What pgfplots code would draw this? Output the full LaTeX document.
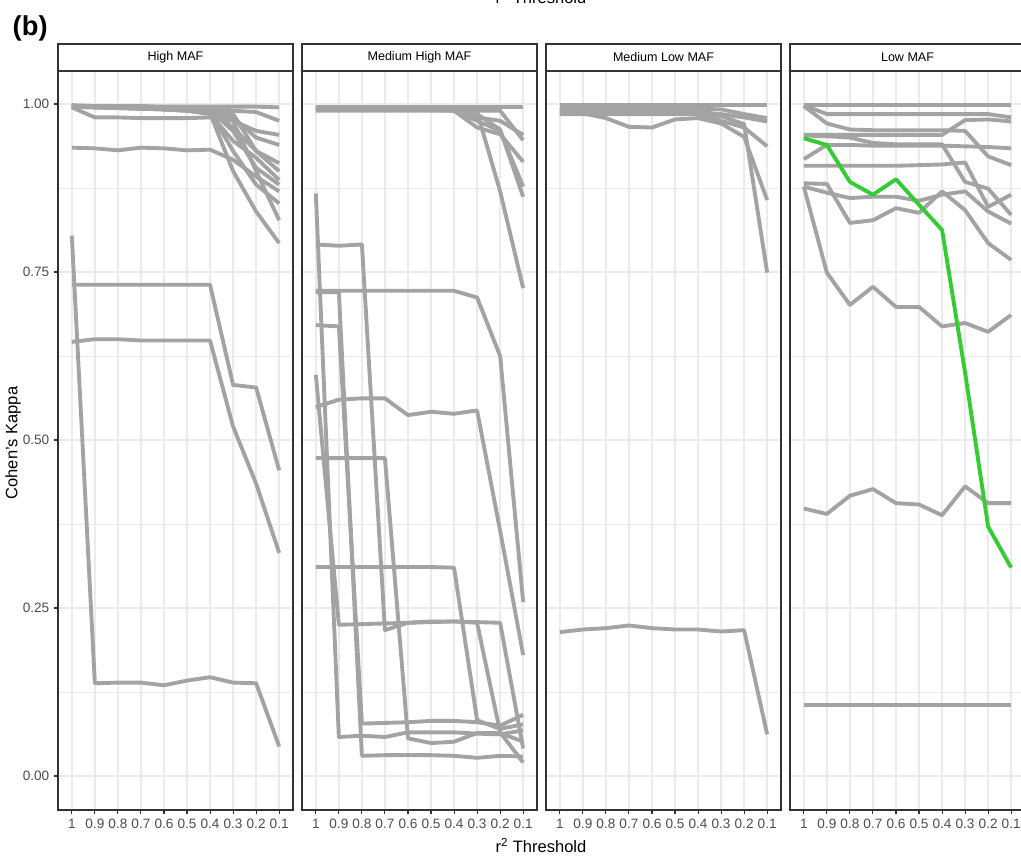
\documentclass[border=0pt]{standalone}
\usepackage{pgfplots}
\pgfplotsset{compat=1.18}
\usepackage{fontspec}
\setmainfont{Liberation Sans}
\definecolor{linegray}{HTML}{A3A3A3}
\definecolor{gridgray}{HTML}{EBEBEB}
\definecolor{bordergray}{HTML}{333333}
\definecolor{tickgray}{HTML}{4D4D4D}
\definecolor{kgreen}{HTML}{33CC33}
\pgfplotsset{
  panel/.style={
    width=176.25pt, height=554.25pt, scale only axis,
    anchor=south west,
    xmin=-0.6, xmax=9.6, ymin=-0.0506, ymax=1.0491,
    xtick={0,...,9}, xticklabels={1,0.9,0.8,0.7,0.6,0.5,0.4,0.3,0.2,0.1},
    ytick={0,0.25,0.5,0.75,1}, minor ytick={0.125,0.375,0.625,0.875},
    grid=both,
    major grid style={gridgray, line width=1.1pt},
    minor grid style={gridgray, line width=0.7pt},
    axis line style={bordergray, line width=0.8pt},
    tick style={bordergray, line width=0.8pt},
    major tick length=3pt, minor tick length=0pt, tick align=outside,
    tick pos=left,
    tick label style={font=\fontsize{10.2}{11}\selectfont, text=tickgray},
    xticklabel style={inner xsep=0pt},
    cycle list={{linegray}},
    every axis plot post/.append style={line width=2.9pt, line join=round, mark=none},
  },
  noy/.style={yticklabels={}, ytick style={draw=none}},
}
\begin{document}
\begin{tikzpicture}
\useasboundingbox (0,0) rectangle (765.75pt,645.75pt);
% ---------------- High MAF
\begin{axis}[panel, at={(43.5pt,38.25pt)}, yticklabels={0.00,0.25,0.50,0.75,1.00}]
\addplot coordinates {(0,0.997)(1,0.997)(2,0.997)(3,0.997)(4,0.996)(5,0.996)(6,0.996)(7,0.996)(8,0.996)(9,0.995)};
\addplot coordinates {(0,0.998)(1,0.996)(2,0.995)(3,0.995)(4,0.995)(5,0.994)(6,0.995)(7,0.990)(8,0.988)(9,0.975)};
\addplot coordinates {(0,0.995)(1,0.980)(2,0.980)(3,0.979)(4,0.979)(5,0.979)(6,0.980)(7,0.975)(8,0.960)(9,0.954)};
\addplot coordinates {(0,0.998)(1,0.997)(2,0.996)(3,0.994)(4,0.993)(5,0.992)(6,0.990)(7,0.965)(8,0.930)(9,0.912)};
\addplot coordinates {(0,0.997)(1,0.996)(2,0.996)(3,0.995)(4,0.992)(5,0.990)(6,0.988)(7,0.930)(8,0.880)(9,0.852)};
\addplot coordinates {(0,0.996)(1,0.995)(2,0.994)(3,0.993)(4,0.992)(5,0.990)(6,0.985)(7,0.945)(8,0.920)(9,0.887)};
\addplot coordinates {(0,0.997)(1,0.996)(2,0.995)(3,0.994)(4,0.993)(5,0.992)(6,0.992)(7,0.980)(8,0.950)(9,0.939)};
\addplot coordinates {(0,0.996)(1,0.995)(2,0.994)(3,0.993)(4,0.992)(5,0.991)(6,0.990)(7,0.975)(8,0.900)(9,0.827)};
\addplot coordinates {(0,0.996)(1,0.995)(2,0.994)(3,0.993)(4,0.992)(5,0.990)(6,0.986)(7,0.900)(8,0.840)(9,0.793)};
\addplot coordinates {(0,0.997)(1,0.997)(2,0.996)(3,0.996)(4,0.995)(5,0.994)(6,0.993)(7,0.985)(8,0.930)(9,0.900)};
\addplot coordinates {(0,0.997)(1,0.996)(2,0.995)(3,0.995)(4,0.994)(5,0.993)(6,0.990)(7,0.960)(8,0.905)(9,0.880)};
\addplot coordinates {(0,0.935)(1,0.934)(2,0.931)(3,0.935)(4,0.934)(5,0.931)(6,0.932)(7,0.917)(8,0.892)(9,0.870)};
\addplot coordinates {(0,0.804)(1,0.138)(2,0.139)(3,0.139)(4,0.135)(5,0.142)(6,0.147)(7,0.139)(8,0.138)(9,0.044)};
\addplot coordinates {(0,0.731)(1,0.731)(2,0.731)(3,0.731)(4,0.731)(5,0.731)(6,0.731)(7,0.582)(8,0.578)(9,0.455)};
\addplot coordinates {(0,0.646)(1,0.650)(2,0.650)(3,0.648)(4,0.648)(5,0.648)(6,0.648)(7,0.520)(8,0.435)(9,0.332)};
\end{axis}
% ---------------- Medium High MAF
\begin{axis}[panel, noy, at={(226.5pt,38.25pt)}]
\addplot coordinates {(0,0.996)(1,0.996)(2,0.996)(3,0.996)(4,0.996)(5,0.996)(6,0.996)(7,0.996)(8,0.996)(9,0.996)};
\addplot coordinates {(0,0.995)(1,0.995)(2,0.995)(3,0.995)(4,0.995)(5,0.995)(6,0.994)(7,0.990)(8,0.990)(9,0.946)};
\addplot coordinates {(0,0.993)(1,0.993)(2,0.993)(3,0.993)(4,0.993)(5,0.993)(6,0.992)(7,0.980)(8,0.975)(9,0.954)};
\addplot coordinates {(0,0.990)(1,0.990)(2,0.990)(3,0.990)(4,0.990)(5,0.990)(6,0.990)(7,0.965)(8,0.955)(9,0.914)};
\addplot coordinates {(0,0.992)(1,0.992)(2,0.992)(3,0.991)(4,0.991)(5,0.991)(6,0.990)(7,0.975)(8,0.960)(9,0.877)};
\addplot coordinates {(0,0.991)(1,0.991)(2,0.991)(3,0.991)(4,0.991)(5,0.991)(6,0.991)(7,0.988)(8,0.870)(9,0.726)};
\addplot coordinates {(0,0.994)(1,0.994)(2,0.994)(3,0.994)(4,0.993)(5,0.993)(6,0.992)(7,0.985)(8,0.962)(9,0.862)};
\addplot coordinates {(0,0.867)(1,0.058)(2,0.060)(3,0.058)(4,0.065)(5,0.065)(6,0.065)(7,0.063)(8,0.062)(9,0.068)};
\addplot coordinates {(0,0.720)(1,0.720)(2,0.030)(3,0.031)(4,0.031)(5,0.031)(6,0.030)(7,0.027)(8,0.030)(9,0.029)};
\addplot coordinates {(0,0.671)(1,0.669)(2,0.078)(3,0.079)(4,0.080)(5,0.082)(6,0.082)(7,0.080)(8,0.075)(9,0.091)};
\addplot coordinates {(0,0.791)(1,0.789)(2,0.791)(3,0.217)(4,0.228)(5,0.230)(6,0.230)(7,0.229)(8,0.228)(9,0.041)};
\addplot coordinates {(0,0.597)(1,0.225)(2,0.226)(3,0.227)(4,0.228)(5,0.229)(6,0.230)(7,0.228)(8,0.065)(9,0.020)};
\addplot coordinates {(0,0.722)(1,0.722)(2,0.722)(3,0.722)(4,0.722)(5,0.722)(6,0.722)(7,0.712)(8,0.625)(9,0.259)};
\addplot coordinates {(0,0.549)(1,0.560)(2,0.562)(3,0.562)(4,0.537)(5,0.542)(6,0.539)(7,0.544)(8,0.365)(9,0.180)};
\addplot coordinates {(0,0.473)(1,0.473)(2,0.473)(3,0.473)(4,0.056)(5,0.049)(6,0.051)(7,0.064)(8,0.064)(9,0.051)};
\addplot coordinates {(0,0.311)(1,0.311)(2,0.311)(3,0.311)(4,0.311)(5,0.311)(6,0.310)(7,0.083)(8,0.070)(9,0.077)};
\end{axis}
% ---------------- Medium Low MAF
\begin{axis}[panel, noy, at={(409.5pt,38.25pt)}]
\addplot coordinates {(0,0.999)(1,0.999)(2,0.999)(3,0.999)(4,0.999)(5,0.999)(6,0.999)(7,0.999)(8,0.999)(9,0.999)};
\addplot coordinates {(0,0.995)(1,0.995)(2,0.995)(3,0.995)(4,0.995)(5,0.993)(6,0.993)(7,0.992)(8,0.985)(9,0.979)};
\addplot coordinates {(0,0.990)(1,0.990)(2,0.990)(3,0.990)(4,0.990)(5,0.990)(6,0.988)(7,0.985)(8,0.980)(9,0.974)};
\addplot coordinates {(0,0.985)(1,0.985)(2,0.985)(3,0.985)(4,0.985)(5,0.985)(6,0.985)(7,0.975)(8,0.965)(9,0.937)};
\addplot coordinates {(0,0.989)(1,0.986)(2,0.979)(3,0.966)(4,0.965)(5,0.977)(6,0.979)(7,0.971)(8,0.951)(9,0.857)};
\addplot coordinates {(0,0.992)(1,0.992)(2,0.991)(3,0.990)(4,0.988)(5,0.987)(6,0.986)(7,0.982)(8,0.970)(9,0.749)};
\addplot coordinates {(0,0.214)(1,0.218)(2,0.220)(3,0.224)(4,0.220)(5,0.218)(6,0.218)(7,0.215)(8,0.217)(9,0.062)};
\end{axis}
% ---------------- Low MAF
\begin{axis}[panel, noy, at={(592.5pt,38.25pt)}]
\addplot coordinates {(0,0.999)(1,0.999)(2,0.999)(3,0.999)(4,0.999)(5,0.999)(6,0.999)(7,0.999)(8,0.999)(9,0.999)};
\addplot coordinates {(0,0.998)(1,0.985)(2,0.985)(3,0.985)(4,0.985)(5,0.985)(6,0.985)(7,0.985)(8,0.985)(9,0.980)};
\addplot coordinates {(0,0.997)(1,0.971)(2,0.962)(3,0.961)(4,0.961)(5,0.961)(6,0.961)(7,0.960)(8,0.922)(9,0.909)};
\addplot coordinates {(0,0.954)(1,0.954)(2,0.954)(3,0.954)(4,0.954)(5,0.954)(6,0.954)(7,0.976)(8,0.977)(9,0.974)};
\addplot coordinates {(0,0.953)(1,0.952)(2,0.950)(3,0.942)(4,0.940)(5,0.940)(6,0.940)(7,0.884)(8,0.874)(9,0.835)};
\addplot coordinates {(0,0.918)(1,0.939)(2,0.939)(3,0.938)(4,0.938)(5,0.938)(6,0.938)(7,0.937)(8,0.936)(9,0.934)};
\addplot coordinates {(0,0.908)(1,0.908)(2,0.908)(3,0.908)(4,0.908)(5,0.909)(6,0.910)(7,0.913)(8,0.847)(9,0.865)};
\addplot coordinates {(0,0.882)(1,0.881)(2,0.823)(3,0.827)(4,0.845)(5,0.838)(6,0.870)(7,0.842)(8,0.793)(9,0.768)};
\addplot coordinates {(0,0.877)(1,0.868)(2,0.860)(3,0.862)(4,0.862)(5,0.856)(6,0.865)(7,0.870)(8,0.840)(9,0.822)};
\addplot coordinates {(0,0.877)(1,0.749)(2,0.701)(3,0.728)(4,0.698)(5,0.698)(6,0.669)(7,0.674)(8,0.661)(9,0.686)};
\addplot coordinates {(0,0.398)(1,0.390)(2,0.417)(3,0.427)(4,0.406)(5,0.404)(6,0.388)(7,0.431)(8,0.406)(9,0.406)};
\addplot coordinates {(0,0.106)(1,0.106)(2,0.106)(3,0.106)(4,0.106)(5,0.106)(6,0.106)(7,0.106)(8,0.106)(9,0.106)};
\addplot[kgreen] coordinates {(0,0.949)(1,0.939)(2,0.884)(3,0.865)(4,0.888)(5,0.850)(6,0.8125)(7,0.600)(8,0.371)(9,0.310)};
\end{axis}
% ---------------- strips and titles
\begin{scope}[x=0.75pt,y=0.75pt]
\foreach \xo/\lab in {58/High MAF, 302/Medium High MAF, 546/Medium Low MAF, 790/Low MAF}{
  \draw[bordergray, line width=0.8pt, fill=white] (\xo,790) rectangle ++(235,27);
  \node[font=\fontsize{9.4}{10}\selectfont, text=black] at (\xo+117.5,803.5) {\lab};
}
\node[font=\bfseries\fontsize{20.5}{23}\selectfont, anchor=west] at (8,833) {(b)};
\node[font=\fontsize{12.4}{14}\selectfont, rotate=90] at (13,418) {Cohen's Kappa};
\node[font=\fontsize{12.4}{14}\selectfont, anchor=base] at (541,9) {r\textsuperscript{2} Threshold};
\node[font=\fontsize{12.4}{14}\selectfont, anchor=base] at (541,857) {r\textsuperscript{2} Threshold};
\end{scope}
\end{tikzpicture}
\end{document}
